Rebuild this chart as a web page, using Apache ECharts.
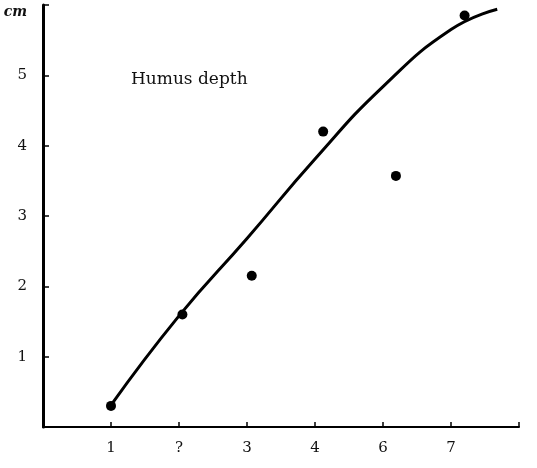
<!DOCTYPE html>
<html>
<head>
<meta charset="utf-8">
<script src="https://cdn.jsdelivr.net/npm/echarts@6/dist/echarts.min.js"></script>
<style>
  html, body { margin: 0; padding: 0; background: #fff; }
  #chart { width: 537px; height: 468px; }
</style>
</head>
<body>
<div id="chart"></div>
<script>
// tick labels on the x axis (positions 1..6)
const xTickLabels = ["1", "?", "3", "4", "6", "7"];
const yTickLabels = ["", "1", "2", "3", "4", "5", "cm"];

// measured points
const pointX = [1.0, 2.05, 3.07, 4.12, 5.19, 6.2];
const pointY = [0.3, 1.6, 2.15, 4.2, 3.57, 5.85];

// fitted curve
const curveX = [1.0, 2.0, 3.0, 4.0, 5.0, 6.0, 6.68];
const curveY = [0.31, 1.58, 2.68, 3.81, 4.84, 5.65, 5.94];

const serif = "DejaVu Serif";

let option = {
  animation: false,
  backgroundColor: "#fff",
  title: {
    text: "Humus depth",
    left: 126,
    top: 66,
    textStyle: {
      fontFamily: serif,
      fontSize: 17,
      fontWeight: "normal",
      color: "#111"
    }
  },
  grid: {
    left: 43,
    right: 18,
    top: 5,
    bottom: 41
  },
  xAxis: {
    type: "value",
    min: 0,
    max: 7,
    interval: 1,
    splitLine: { show: false },
    axisLine: { lineStyle: { color: "#000", width: 2 } },
    axisTick: { inside: true, length: 5, lineStyle: { color: "#000", width: 1.5 } },
    axisLabel: {
      margin: 14,
      fontFamily: serif,
      fontSize: 15,
      color: "#111",
      formatter: function (v) {
        return v >= 1 && v <= xTickLabels.length ? xTickLabels[v - 1] : "";
      }
    }
  },
  yAxis: {
    type: "value",
    min: 0,
    max: 6,
    interval: 1,
    splitLine: { show: false },
    axisLine: { lineStyle: { color: "#000", width: 3 } },
    axisTick: { inside: true, length: 6, lineStyle: { color: "#000", width: 1.5 } },
    axisLabel: {
      margin: 16,
      fontFamily: serif,
      fontSize: 15,
      color: "#111",
      formatter: function (v) {
        let s = yTickLabels[v] || "";
        return v === 6 ? "{u|" + s + "}" : s;
      },
      rich: {
        u: {
          fontFamily: serif,
          fontStyle: "italic",
          fontWeight: "bold",
          fontSize: 14,
          color: "#111",
          padding: [14, 0, 0, 0]
        }
      }
    }
  },
  series: [
    {
      name: "curve",
      type: "line",
      smooth: 0.5,
      showSymbol: false,
      symbol: "none",
      lineStyle: { color: "#000", width: 3 },
      data: curveX.map((x, i) => [x, curveY[i]])
    },
    {
      name: "points",
      type: "scatter",
      symbolSize: 10,
      itemStyle: { color: "#000", opacity: 1 },
      data: pointX.map((x, i) => [x, pointY[i]])
    }
  ]
};

let myChart = echarts.init(document.getElementById("chart"));
myChart.setOption(option);
</script>
</body>
</html>
